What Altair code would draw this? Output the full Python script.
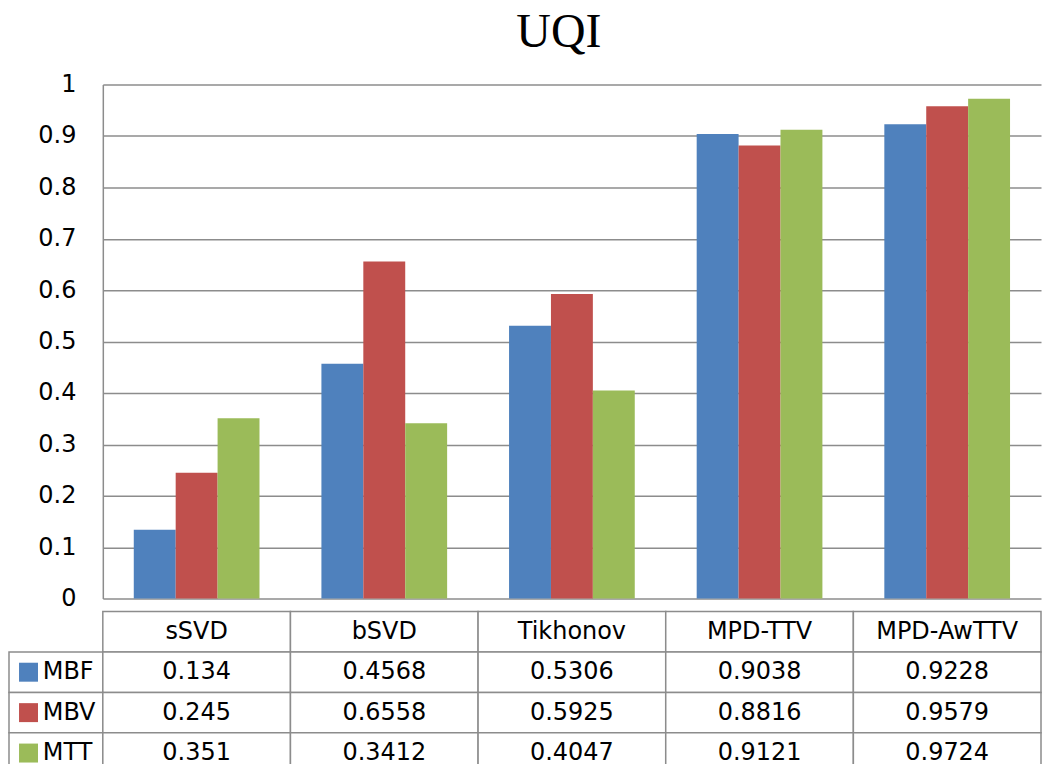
import altair as alt
import pandas as pd

categories = ["sSVD", "bSVD", "Tikhonov", "MPD-TTV", "MPD-AwTTV"]
series = ["MBF", "MBV", "MTT"]
mbf = [0.134, 0.4568, 0.5306, 0.9038, 0.9228]
mbv = [0.245, 0.6558, 0.5925, 0.8816, 0.9579]
mtt = [0.351, 0.3412, 0.4047, 0.9121, 0.9724]
colors = ["#4F81BD", "#C0504D", "#9BBB59"]
y_ticks = [0, 0.1, 0.2, 0.3, 0.4, 0.5, 0.6, 0.7, 0.8, 0.9, 1]

values = [mbf, mbv, mtt]
GRID = "#8c8c8c"
FONT = "DejaVu Sans"

bars_df = pd.DataFrame(
    [{"category": c, "series": s, "value": v}
     for s, vals in zip(series, values) for c, v in zip(categories, vals)]
)

# table cells (column index / row index built from the arrays above)
cells = []
for i, c in enumerate(categories):
    cells.append(dict(x=i, x2=i + 1, y=0, y2=1, xc=i + 0.5, yc=0.5, label=c))
for r, (s, vals) in enumerate(zip(series, values), start=1):
    cells.append(dict(x=-0.5, x2=0, y=r, y2=r + 1, xc=-0.25, yc=r + 0.5, label=""))
    for i, v in enumerate(vals):
        cells.append(dict(x=i, x2=i + 1, y=r, y2=r + 1, xc=i + 0.5, yc=r + 0.5, label=str(v)))
cells_df = pd.DataFrame(cells)
text_df = cells_df[cells_df["label"] != ""]

legend_df = pd.DataFrame(
    [{"series": s, "xs": -0.396, "xt": -0.32, "yc": r + 0.5} for r, s in enumerate(series, start=1)]
)

color_scale = alt.Scale(domain=series, range=colors)

top = alt.Chart(bars_df).mark_bar().encode(
    x=alt.X("category:N", sort=categories,
            scale=alt.Scale(paddingInner=0.33, paddingOuter=0.165),
            axis=None),
    xOffset=alt.XOffset("series:N", sort=series, scale=alt.Scale(paddingInner=0, paddingOuter=0)),
    y=alt.Y("value:Q", scale=alt.Scale(domain=[0, 1], nice=False),
            axis=alt.Axis(values=y_ticks, format="~g", title=None, grid=True,
                          gridColor=GRID, gridWidth=1.5, ticks=False,
                          domainColor=GRID, domainWidth=1.5,
                          labelFont=FONT, labelFontSize=24, labelColor="black",
                          labelPadding=27)),
    color=alt.Color("series:N", scale=color_scale, legend=None),
).properties(
    width=940, height=515,
    title=alt.TitleParams("UQI", font="Liberation Serif", fontSize=48, fontWeight="normal",
                          color="black", anchor="middle", frame="group", offset=16, dx=-13),
)

xs = alt.Scale(domain=[0, 5], nice=False, zero=False)
ys = alt.Scale(domain=[0, 4], nice=False, zero=False, reverse=True)

rects = alt.Chart(cells_df).mark_rect(fill="white", stroke=GRID, strokeWidth=1.5).encode(
    x=alt.X("x:Q", scale=xs, axis=None), x2="x2:Q",
    y=alt.Y("y:Q", scale=ys, axis=None), y2="y2:Q",
)
texts = alt.Chart(text_df).mark_text(font=FONT, fontSize=24, color="black").encode(
    x=alt.X("xc:Q", scale=xs, axis=None),
    y=alt.Y("yc:Q", scale=ys, axis=None),
    text="label:N",
)
squares = alt.Chart(legend_df).mark_point(shape="square", filled=True, size=361, opacity=1).encode(
    x=alt.X("xs:Q", scale=xs, axis=None),
    y=alt.Y("yc:Q", scale=ys, axis=None),
    color=alt.Color("series:N", scale=color_scale, legend=None),
)
labels = alt.Chart(legend_df).mark_text(font=FONT, fontSize=24, color="black", align="left").encode(
    x=alt.X("xt:Q", scale=xs, axis=None),
    y=alt.Y("yc:Q", scale=ys, axis=None),
    text="series:N",
)
table = alt.layer(rects, texts, squares, labels).properties(width=940, height=162)

chart = alt.vconcat(top, table, spacing=0).properties(padding=0).configure_view(strokeWidth=0)

chart.save("out.html", embed_options={"renderer": "svg", "actions": False})
